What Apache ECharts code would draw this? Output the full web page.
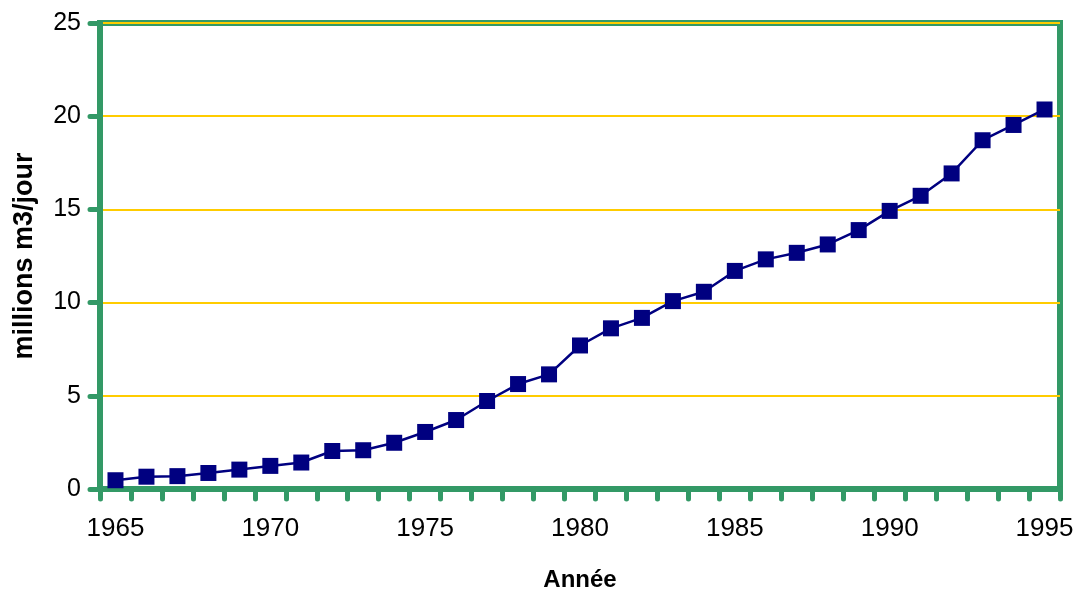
<!DOCTYPE html>
<html>
<head>
<meta charset="utf-8">
<style>
  html, body { margin: 0; padding: 0; background: #ffffff; }
  #chart { width: 1081px; height: 591px; }
</style>
<script src="https://cdn.jsdelivr.net/npm/echarts@6/dist/echarts.min.js"></script>
</head>
<body>
<div id="chart"></div>
<script>
// Years on the horizontal axis
const years = [
  1965, 1966, 1967, 1968, 1969, 1970, 1971, 1972, 1973, 1974,
  1975, 1976, 1977, 1978, 1979, 1980, 1981, 1982, 1983, 1984,
  1985, 1986, 1987, 1988, 1989, 1990, 1991, 1992, 1993, 1994, 1995
];

// Volume per day, in millions of m3
const volumes = [
  0.47, 0.66, 0.69, 0.86, 1.04, 1.24, 1.42, 2.04, 2.08, 2.48,
  3.06, 3.70, 4.72, 5.63, 6.15, 7.70, 8.62, 9.18, 10.08, 10.58,
  11.70, 12.32, 12.67, 13.12, 13.89, 14.92, 15.73, 16.93, 18.71, 19.53, 20.36
];

// Years that carry a label
const labelledYears = [1965, 1970, 1975, 1980, 1985, 1990, 1995];

const green = '#339966';
const font = '"Liberation Sans", Arial, sans-serif';

const chart = echarts.init(document.getElementById('chart'), null, { renderer: 'canvas' });

chart.setOption({
  animation: false,
  backgroundColor: '#ffffff',
  grid: {
    left: 100, right: 21, top: 23, bottom: 102,
    outerBoundsMode: 'none',
    containLabel: false,
    show: true,
    borderColor: green,
    borderWidth: 6,
    backgroundColor: 'transparent'
  },
  xAxis: {
    type: 'category',
    data: years.map(String),
    boundaryGap: true,
    name: 'Année',
    nameLocation: 'middle',
    nameGap: 79,
    nameTextStyle: { fontFamily: font, fontWeight: 'bold', fontSize: 24, color: '#000000' },
    axisLine: { lineStyle: { color: green, width: 6 } },
    axisTick: {
      show: true,
      alignWithLabel: false,
      interval: 0,
      length: 10,
      lineStyle: { color: green, width: 5, cap: 'round' }
    },
    axisLabel: {
      interval: 0,
      margin: 27,
      fontFamily: font,
      fontSize: 26,
      color: '#000000',
      formatter: function (v) {
        return labelledYears.indexOf(Number(v)) >= 0 ? v : '';
      }
    },
    splitLine: { show: false }
  },
  yAxis: {
    type: 'value',
    min: 0,
    max: 25,
    interval: 5,
    name: 'millions m3/jour',
    nameLocation: 'middle',
    nameGap: 62,
    nameRotate: 90,
    nameTextStyle: { fontFamily: font, fontWeight: 'bold', fontSize: 27, color: '#000000' },
    axisLine: { show: true, lineStyle: { color: green, width: 6 } },
    axisTick: { show: true, length: 10, lineStyle: { color: green, width: 5, cap: 'round' } },
    axisLabel: {
      margin: 19,
      fontFamily: font,
      fontSize: 25,
      color: '#000000'
    },
    splitLine: { show: true, lineStyle: { color: '#FFCC00', width: 2 } }
  },
  series: [{
    type: 'line',
    data: volumes,
    symbol: 'rect',
    symbolSize: 16,
    lineStyle: { color: '#000080', width: 2.5 },
    itemStyle: { color: '#000080' },
    z: 5
  }]
});
</script>
</body>
</html>
